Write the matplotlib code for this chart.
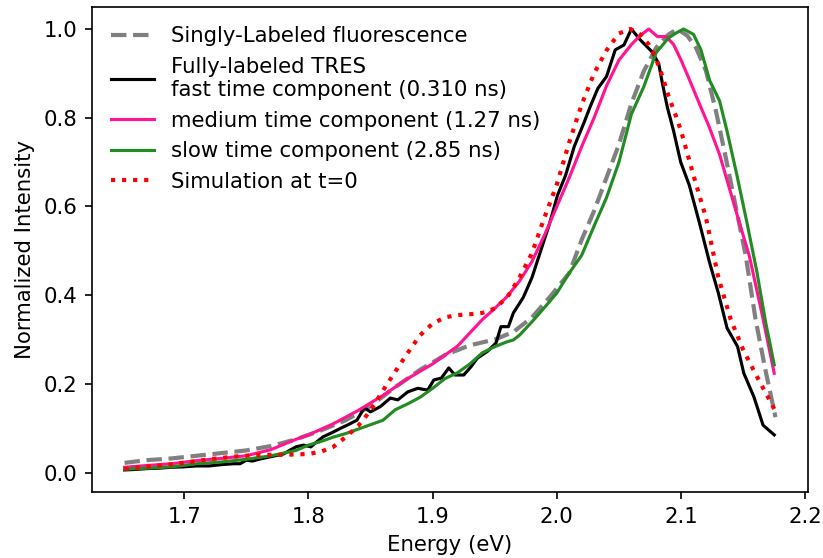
import matplotlib
matplotlib.use("Agg")
import matplotlib.pyplot as plt

plt.rcParams["font.size"] = 10.2

# Singly-labeled fluorescence (grey dashed)
E_single = [1.652, 1.67, 1.69, 1.71, 1.73, 1.75, 1.77, 1.79, 1.81, 1.83, 1.85, 1.87,
            1.89, 1.91, 1.93, 1.95, 1.965, 1.98, 1.995, 2.01, 2.02, 2.03, 2.04, 2.05,
            2.06, 2.07, 2.08, 2.09, 2.097, 2.105, 2.112, 2.12, 2.128, 2.136, 2.144,
            2.152, 2.16, 2.168, 2.176]
I_single = [0.022, 0.028, 0.032, 0.038, 0.044, 0.050, 0.060, 0.075, 0.095, 0.118, 0.150, 0.193,
            0.232, 0.265, 0.287, 0.300, 0.317, 0.350, 0.398, 0.450, 0.525, 0.590, 0.665, 0.740,
            0.832, 0.905, 0.958, 0.988, 1.000, 0.985, 0.958, 0.906, 0.816, 0.710, 0.600,
            0.490, 0.345, 0.230, 0.125]

# Fast time component (black)
E_fast = [1.652, 1.66, 1.67, 1.68, 1.69, 1.70, 1.71, 1.72, 1.73, 1.74, 1.745, 1.75, 1.755,
          1.76, 1.77, 1.78, 1.786, 1.79, 1.796, 1.802, 1.807, 1.812, 1.819, 1.826, 1.832,
          1.839, 1.845, 1.85, 1.858, 1.866, 1.872, 1.88, 1.888, 1.896, 1.901, 1.907, 1.913,
          1.918, 1.925, 1.931, 1.936, 1.944, 1.951, 1.955, 1.961, 1.965, 1.973, 1.98, 1.987,
          1.994, 2.0005, 2.007, 2.014, 2.022, 2.027, 2.033, 2.04, 2.047, 2.054, 2.06, 2.067,
          2.0765, 2.082, 2.085, 2.089, 2.094, 2.0997, 2.1066, 2.1147, 2.123, 2.13, 2.137,
          2.1455, 2.1505, 2.1586, 2.166, 2.175]
I_fast = [0.006, 0.007, 0.009, 0.010, 0.012, 0.013, 0.015, 0.015, 0.018, 0.020, 0.020, 0.028, 0.026,
          0.030, 0.036, 0.042, 0.052, 0.058, 0.062, 0.058, 0.070, 0.081, 0.090, 0.100, 0.108,
          0.118, 0.146, 0.137, 0.149, 0.168, 0.164, 0.182, 0.190, 0.186, 0.209, 0.213, 0.236,
          0.220, 0.220, 0.239, 0.258, 0.273, 0.292, 0.329, 0.329, 0.360, 0.395, 0.440, 0.500,
          0.560, 0.625, 0.670, 0.735, 0.790, 0.826, 0.866, 0.893, 0.953, 0.964, 1.000, 0.976,
          0.949, 0.922, 0.877, 0.823, 0.770, 0.700, 0.648, 0.564, 0.473, 0.405, 0.326,
          0.284, 0.224, 0.171, 0.107, 0.085]

# Medium time component (pink)
E_medium = [1.652, 1.67, 1.69, 1.71, 1.73, 1.75, 1.77, 1.79, 1.80, 1.82, 1.84, 1.86, 1.88,
            1.90, 1.92, 1.93, 1.94, 1.95, 1.96, 1.97, 1.98, 1.99, 2.00, 2.01, 2.02, 2.03,
            2.04, 2.05, 2.06, 2.067, 2.074, 2.081, 2.088, 2.094, 2.10, 2.107, 2.115, 2.123,
            2.131, 2.139, 2.147, 2.155, 2.165, 2.175]
I_medium = [0.012, 0.016, 0.020, 0.027, 0.032, 0.038, 0.052, 0.075, 0.085, 0.110, 0.140, 0.174, 0.212,
            0.245, 0.285, 0.315, 0.345, 0.370, 0.397, 0.432, 0.476, 0.535, 0.600, 0.665, 0.735, 0.800,
            0.872, 0.930, 0.965, 0.985, 1.000, 0.983, 0.983, 0.965, 0.930, 0.884, 0.830, 0.777,
            0.717, 0.640, 0.563, 0.488, 0.360, 0.224]

# Slow time component (green)
E_slow = [1.652, 1.67, 1.69, 1.71, 1.73, 1.75, 1.77, 1.79, 1.80, 1.81, 1.82, 1.83, 1.84, 1.85,
          1.86, 1.87, 1.88, 1.89, 1.90, 1.91, 1.92, 1.93, 1.94, 1.95, 1.96, 1.965, 1.97, 1.98,
          1.99, 2.00, 2.01, 2.02, 2.03, 2.04, 2.05, 2.06, 2.07, 2.08, 2.09, 2.096, 2.102, 2.11,
          2.116, 2.123, 2.131, 2.137, 2.145, 2.153, 2.161, 2.168, 2.175]
I_slow = [0.008, 0.010, 0.013, 0.020, 0.024, 0.030, 0.038, 0.050, 0.062, 0.070, 0.080, 0.088, 0.098, 0.108,
          0.118, 0.142, 0.155, 0.170, 0.190, 0.212, 0.225, 0.245, 0.270, 0.284, 0.295, 0.299, 0.310, 0.340,
          0.372, 0.405, 0.450, 0.490, 0.556, 0.620, 0.700, 0.808, 0.870, 0.947, 0.980, 0.991, 1.000, 0.988,
          0.953, 0.884, 0.838, 0.770, 0.670, 0.564, 0.453, 0.340, 0.243]

# Simulation at t=0 (red dotted)
E_sim = [1.652, 1.66, 1.68, 1.70, 1.72, 1.74, 1.76, 1.78, 1.80, 1.81, 1.82, 1.83, 1.84, 1.85,
         1.86, 1.87, 1.88, 1.89, 1.90, 1.91, 1.92, 1.93, 1.94, 1.95, 1.96, 1.97, 1.98, 1.99,
         2.00, 2.01, 2.02, 2.03, 2.04, 2.05, 2.059, 2.067, 2.074, 2.079, 2.085, 2.09, 2.096,
         2.10, 2.11, 2.12, 2.13, 2.14, 2.15, 2.16, 2.17, 2.176]
I_sim = [0.008, 0.011, 0.016, 0.022, 0.030, 0.036, 0.040, 0.040, 0.042, 0.047, 0.058, 0.080, 0.105, 0.140,
         0.185, 0.228, 0.270, 0.310, 0.336, 0.350, 0.355, 0.357, 0.360, 0.370, 0.395, 0.440, 0.495, 0.575,
         0.650, 0.745, 0.830, 0.900, 0.952, 0.990, 1.000, 0.988, 0.965, 0.939, 0.893, 0.848, 0.803,
         0.770, 0.670, 0.575, 0.440, 0.345, 0.277, 0.222, 0.170, 0.138]

labels = ["Singly-Labeled fluorescence",
          "Fully-labeled TRES\nfast time component (0.310 ns)",
          "medium time component (1.27 ns)",
          "slow time component (2.85 ns)",
          "Simulation at t=0"]

fig = plt.figure(figsize=(823 / 150, 558 / 150), dpi=150)
ax = fig.add_axes([0.1118, 0.1183, 0.8700, 0.8692])

ax.plot(E_single, I_single, color="grey", linestyle="--", linewidth=2, label=labels[0])
ax.plot(E_fast, I_fast, color="black", linewidth=1.5, label=labels[1])
ax.plot(E_medium, I_medium, color="deeppink", linewidth=1.5, label=labels[2])
ax.plot(E_slow, I_slow, color="forestgreen", linewidth=1.5, label=labels[3])
ax.plot(E_sim, I_sim, color="red", linestyle=":", linewidth=2, label=labels[4])

ax.set_xlabel("Energy (eV)")
ax.set_ylabel("Normalized Intensity")
ax.set_xticks([1.7, 1.8, 1.9, 2.0, 2.1, 2.2])
ax.legend(loc="upper left", frameon=False)

fig.savefig("out.png", dpi=150)
